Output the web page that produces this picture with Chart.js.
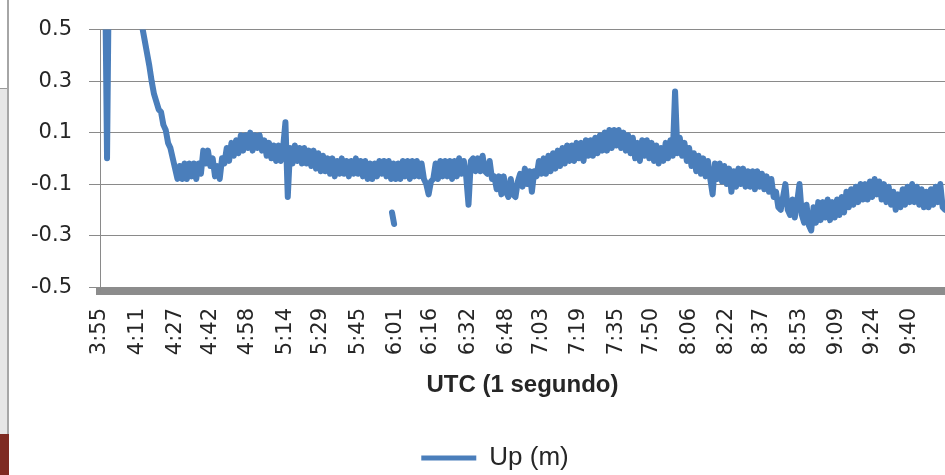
<!DOCTYPE html>
<html>
<head>
<meta charset="utf-8">
<script src="https://cdn.jsdelivr.net/npm/chart.js@4"></script>
<style>
  html, body { margin: 0; padding: 0; background: #fff; overflow: hidden; }
  body { width: 945px; height: 475px; position: relative; }
  #frame-line { position: absolute; left: 7px; top: 0; width: 2px; height: 475px; background: #a6a6a6; }
  #frame-side { position: absolute; left: 0; top: 88px; width: 7px; height: 346px; background: #e6e6e6; border-top: 1px solid #9a9a9a; }
  #frame-tab { position: absolute; left: 0; top: 434px; width: 9px; height: 41px; background: #7e2b22; }
  #chart { position: absolute; left: 0; top: 0; }
</style>
</head>
<body>
<div id="frame-line"></div>
<div id="frame-side"></div>
<div id="frame-tab"></div>
<canvas id="chart" width="970" height="481"></canvas>
<script>
// tick labels on the time axis (h:mm)
const timeLabels = ['3:55', '4:11', '4:27', '4:42', '4:58', '5:14', '5:29', '5:45', '6:01', '6:16', '6:32',
  '6:48', '7:03', '7:19', '7:35', '7:50', '8:06', '8:22', '8:37', '8:53', '9:09', '9:24', '9:40'];
const yTicks = [-0.5, -0.3, -0.1, 0.1, 0.3, 0.5];

// Up component (m), one reading per minute starting at 3:55
const startMinute = 235;
const upValues = [
  0.85, 0.9, 0.88, 0.0, 0.95, 0.93, 0.9, 0.88, 0.85, 0.82,
  0.78, 0.75, 0.72, 0.68, 0.64, 0.61, 0.58, 0.55, 0.51, 0.46,
  0.41, 0.36, 0.3, 0.25, 0.22, 0.19, 0.18, 0.13, 0.11, 0.06,
  0.04, 0.0, -0.04, -0.08, -0.03, -0.08, -0.02, -0.08, -0.02, -0.07,
  -0.02, -0.08, -0.02, -0.06, 0.03, -0.02, 0.03, -0.03, 0.0, -0.07,
  -0.03, -0.08, 0.0, -0.02, 0.04, -0.01, 0.06, 0.01, 0.07, 0.02,
  0.09, 0.03, 0.09, 0.04, 0.1, 0.03, 0.09, 0.04, 0.09, 0.03,
  0.07, 0.01, 0.06, 0.0, 0.05, -0.01, 0.05, -0.01, 0.04, 0.14,
  -0.15, 0.04, -0.02, 0.05, -0.01, 0.04, -0.02, 0.04, -0.02, 0.03,
  -0.03, 0.03, -0.04, 0.02, -0.05, 0.01, -0.05, 0.0, -0.06, 0.0,
  -0.07, -0.01, -0.06, 0.0, -0.06, -0.01, -0.07, -0.01, -0.06, 0.0,
  -0.06, -0.01, -0.07, -0.01, -0.08, -0.02, -0.08, -0.02, -0.07, -0.01,
  -0.06, -0.01, -0.07, -0.01, -0.08, -0.02, -0.08, -0.02, -0.08, -0.01,
  -0.07, -0.01, -0.08, -0.01, -0.07, -0.01, -0.07, -0.02, -0.08, -0.1,
  -0.14, -0.09, -0.08, -0.02, -0.08, -0.01, -0.07, -0.01, -0.07, -0.01,
  -0.08, -0.01, -0.07, 0.0, -0.06, -0.01, -0.07, -0.18, -0.01, 0.0,
  -0.05, 0.0, -0.05, 0.01, -0.05, -0.06, -0.01, -0.08, -0.07, -0.12,
  -0.07, -0.14, -0.07, -0.13, -0.15, -0.08, -0.14, -0.15, -0.09, -0.06,
  -0.11, -0.04, -0.1, -0.05, -0.13, -0.05, -0.07, -0.01, -0.06, 0.0,
  -0.06, 0.01, -0.05, 0.02, -0.04, 0.03, -0.03, 0.04, -0.02, 0.05,
  -0.01, 0.05, -0.01, 0.06, 0.0, 0.06, -0.01, 0.07, 0.01, 0.07,
  0.01, 0.08, 0.02, 0.09, 0.03, 0.1, 0.03, 0.11, 0.04, 0.11,
  0.05, 0.11, 0.04, 0.1, 0.03, 0.09, 0.02, 0.08, 0.0, 0.06,
  -0.01, 0.07, 0.01, 0.07, 0.0, 0.06, -0.01, 0.05, -0.02, 0.04,
  -0.01, 0.06, 0.0, 0.07, 0.01, 0.26, 0.02, 0.08, 0.01, 0.06,
  -0.01, 0.04, -0.03, 0.02, -0.05, 0.01, -0.06, 0.0, -0.07, -0.01,
  -0.08, -0.14, -0.02, -0.08, -0.02, -0.09, -0.03, -0.1, -0.04, -0.13,
  -0.05, -0.11, -0.04, -0.1, -0.04, -0.11, -0.05, -0.11, -0.05, -0.12,
  -0.05, -0.11, -0.06, -0.12, -0.07, -0.13, -0.08, -0.15, -0.13, -0.19,
  -0.2, -0.15, -0.1, -0.2, -0.22, -0.16, -0.23, -0.17, -0.1, -0.22,
  -0.25, -0.18, -0.26, -0.28, -0.19, -0.25, -0.17, -0.24, -0.17, -0.23,
  -0.16, -0.24, -0.17, -0.23, -0.16, -0.22, -0.15, -0.21, -0.13, -0.19,
  -0.12, -0.18, -0.11, -0.17, -0.1, -0.16, -0.1, -0.16, -0.09, -0.15,
  -0.08, -0.14, -0.09, -0.16, -0.1, -0.17, -0.11, -0.18, -0.13, -0.2,
  -0.14, -0.19, -0.12, -0.18, -0.11, -0.17, -0.1, -0.17, -0.11, -0.18,
  -0.12, -0.19, -0.13, -0.19, -0.12, -0.18, -0.11, -0.17, -0.1, -0.19,
  -0.2
];

// short detached stretch of readings just before 6:01
const fragmentMinutes = [359.4, 360.3];
const fragmentValues = [-0.21, -0.255];

function toMinutes(label) {
  const [h, m] = label.split(':').map(Number);
  return h * 60 + m;
}

const blue = '#4a7ebb';
const gridGrey = '#8a8a8a';
const textColor = '#262626';

const upPoints = upValues.map((v, i) => ({ x: startMinute + i, y: v }));
const fragmentPoints = fragmentValues.map((v, i) => ({ x: fragmentMinutes[i], y: v }));

const lineStyle = {
  yAxisID: 'y',
  borderColor: blue,
  backgroundColor: blue,
  borderWidth: 6,
  borderJoinStyle: 'round',
  borderCapStyle: 'round',
  pointRadius: 0,
  tension: 0,
  clip: 0
};

new Chart(document.getElementById('chart'), {
  type: 'line',
  data: {
    datasets: [
      Object.assign({ label: 'Up (m)', data: upPoints }, lineStyle),
      Object.assign({ label: 'Up (m)', data: fragmentPoints }, lineStyle)
    ]
  },
  options: {
    responsive: false,
    animation: false,
    devicePixelRatio: 1,
    layout: { padding: { left: 20, right: 0, top: 24, bottom: 0 } },
    scales: {
      x: {
        type: 'linear',
        min: startMinute,
        max: 595,
        afterBuildTicks: (scale) => {
          scale.ticks = timeLabels.map(l => ({ value: toMinutes(l) }));
        },
        afterFit: (scale) => { scale.height = 144; },
        ticks: {
          autoSkip: false,
          minRotation: 90,
          maxRotation: 90,
          padding: 17,
          color: textColor,
          font: { family: 'DejaVu Sans', size: 21 },
          callback: (value, index) => timeLabels[index]
        },
        grid: { display: false, drawTicks: false },
        border: { display: true, color: '#8c8c8c', width: 8 },
        title: {
          display: true,
          text: 'UTC (1 segundo)',
          color: textColor,
          font: { family: 'Liberation Sans', size: 24, weight: 'bold' },
          padding: { top: 0, bottom: 35 }
        }
      },
      y: {
        position: 'left',
        min: -0.5152,
        max: 0.5,
        afterBuildTicks: (scale) => {
          scale.ticks = yTicks.map(v => ({ value: v }));
        },
        afterFit: (scale) => { scale.width = 80; },
        ticks: {
          padding: 17,
          color: textColor,
          font: { family: 'DejaVu Sans', size: 21 },
          callback: (value) => value.toFixed(1)
        },
        grid: { color: gridGrey, lineWidth: 1, tickLength: 11 },
        border: { color: gridGrey, width: 1 }
      },
      // empty strip on the right of the plot
      yRight: {
        position: 'right',
        afterFit: (scale) => { scale.width = 25; },
        ticks: { display: false },
        grid: { display: false, drawTicks: false },
        border: { display: false }
      }
    },
    plugins: {
      tooltip: { enabled: false },
      legend: {
        position: 'bottom',
        labels: {
          boxWidth: 55,
          boxHeight: 5,
          color: textColor,
          font: { family: 'Liberation Sans', size: 26 },
          generateLabels: (chart) => {
            const items = Chart.defaults.plugins.legend.labels.generateLabels(chart);
            items.forEach(item => { item.lineWidth = 0; });
            return items.filter(item => item.datasetIndex === 0);
          }
        }
      }
    }
  }
});
</script>
</body>
</html>
